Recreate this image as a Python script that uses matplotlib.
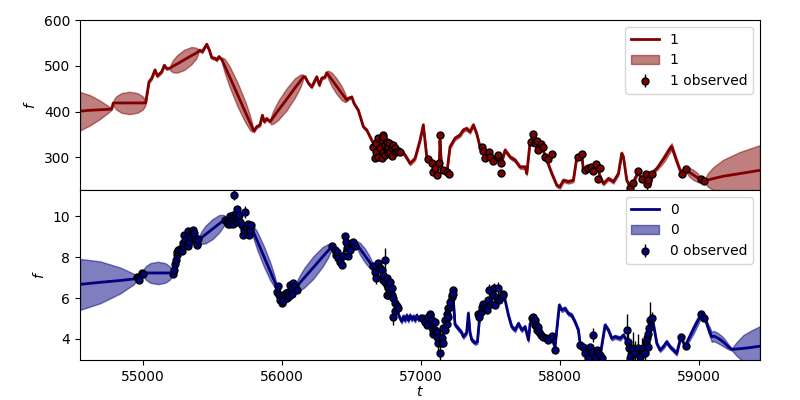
import numpy as np
import matplotlib
matplotlib.use('Agg')
import matplotlib.pyplot as plt
from matplotlib.patches import Patch

# Posterior mean, half-width of band (output "1")
mean1 = [
    (54547, 401, 42), (54619, 403, 33), (54691, 404, 20), (54751, 405, 7), (54775, 406, 2),
    (54786, 419, 2), (54792, 419, 8), (54809, 419, 14.7), (54844, 419, 21.3), (54902, 419, 24.5),
    (54961, 419, 21.3), (54996, 419, 14.7), (55013, 419, 8), (55019, 419, 2),
    (55043, 465, 3), (55063, 473, 3), (55086, 491, 3), (55103, 478, 3), (55134, 487, 3),
    (55153, 501, 3), (55170, 494, 3),
    (55194, 495, 2), (55199, 496, 7), (55214, 499, 13), (55245, 504, 19), (55296, 513, 22),
    (55347, 522, 19), (55378, 527, 13), (55393, 530, 7), (55398, 531, 2),
    (55405, 534, 3), (55426, 531, 3), (55458, 547, 3), (55477, 534, 3), (55494, 518, 3),
    (55518, 516, 3), (55530, 513, 3), (55546, 520, 3), (55566, 514, 2),
    (55572, 510, 8), (55589, 499, 15.6), (55623, 476, 22.6), (55680, 437, 26), (55736, 399, 22.6),
    (55770, 375, 15.6), (55787, 364, 8), (55793, 360, 2),
    (55798, 358, 3), (55817, 367, 3), (55841, 371, 3), (55858, 392, 3), (55872, 378, 3),
    (55889, 385, 3), (55913, 378, 2),
    (55919, 380, 7.5), (55937, 388, 14.4), (55973, 403, 20.9), (56033, 427, 24), (56093, 452, 20.9),
    (56129, 466, 14.4), (56147, 474, 7.5), (56153, 476, 2),
    (56165, 476, 3), (56189, 462, 3), (56213, 454, 3), (56249, 476, 3), (56268, 458, 3),
    (56285, 473, 3), (56309, 476, 3), (56321, 485, 2),
    (56325, 483, 5.5), (56335, 479, 10), (56357, 470, 15), (56393, 455, 17), (56429, 440, 15),
    (56451, 431, 10), (56461, 427, 5.5), (56465, 425, 2),
    (56476, 429, 3), (56501, 432, 3), (56517, 418, 3), (56548, 403, 3), (56584, 367, 3),
    (56608, 360, 3), (56644, 338, 3), (56668, 325, 3), (56700, 318, 3), (56740, 322, 3),
    (56780, 316, 3), (56820, 314, 3), (56848, 318, 3),
    (56884, 305, 4), (56920, 287, 4), (56956, 298, 4), (56992, 338, 4), (57015, 371, 4),
    (57040, 301, 4), (57076, 287, 4), (57112, 272, 4), (57130, 287, 4), (57135, 338, 4),
    (57148, 272, 4), (57184, 265, 4), (57207, 323, 4), (57243, 342, 4), (57279, 349, 4),
    (57303, 360, 4), (57327, 363, 4), (57351, 356, 4), (57375, 371, 4), (57399, 352, 4),
    (57423, 323, 4), (57447, 309, 4), (57483, 305, 4), (57519, 301, 4), (57555, 294, 4),
    (57579, 290, 4), (57603, 316, 4), (57639, 301, 4), (57675, 294, 4), (57711, 279, 4),
    (57747, 279, 4), (57759, 265, 4), (57783, 334, 4), (57807, 352, 4), (57831, 334, 4),
    (57867, 323, 4), (57903, 294, 4), (57939, 265, 4), (57975, 239, 4), (57998, 236, 4),
    (58022, 250, 4), (58058, 247, 4), (58094, 250, 4), (58119, 301, 4), (58154, 309, 4),
    (58166, 272, 4), (58190, 276, 4), (58226, 272, 4), (58250, 279, 4), (58274, 272, 4),
    (58286, 258, 4), (58310, 243, 4), (58346, 254, 4), (58382, 247, 4), (58418, 265, 4),
    (58442, 309, 4), (58454, 301, 4), (58478, 250, 4), (58502, 236, 4), (58526, 247, 4),
    (58562, 269, 4), (58586, 250, 4), (58609, 261, 4), (58633, 261, 4), (58645, 239, 4),
    (58669, 269, 4), (58694, 276, 4),
    (58720, 287, 6), (58750, 300, 8), (58780, 315, 8), (58801, 324, 7), (58830, 298, 6),
    (58861, 272, 4), (58885, 269, 3),
    (58897, 279, 2), (58909, 273, 6.6), (58927, 268, 9.6), (58957, 262, 11),
    (58987, 256, 9.6), (59005, 252, 6.6), (59017, 250, 2), (59034, 248, 2),
    (59062, 251, 15), (59101, 254, 25), (59172, 259, 36), (59292, 265, 47), (59436, 272, 55),
]

# Observations (t, f, error) for output "1"
obs1 = [
    (56656, 323, 4), (56668, 298, 4), (56675, 331, 4), (56675, 312, 4), (56692, 342, 4),
    (56692, 301, 4), (56704, 320, 4), (56716, 338, 4), (56716, 298, 4), (56723, 349, 4),
    (56728, 344, 4), (56728, 312, 4), (56740, 327, 4), (56740, 305, 4), (56752, 334, 4),
    (56752, 316, 4), (56764, 323, 4), (56764, 309, 4), (56771, 331, 4), (56776, 312, 4),
    (56788, 320, 4), (56788, 303, 4), (56800, 327, 4), (56812, 320, 4), (56819, 312, 4),
    (56836, 314, 4), (56848, 312, 4),
    (57051, 296, 4), (57076, 287, 4), (57087, 269, 4), (57099, 276, 4), (57112, 261, 4),
    (57130, 289, 4), (57135, 349, 4), (57159, 272, 4), (57184, 269, 4), (57200, 263, 4),
    (57435, 322, 4), (57442, 314, 4), (57459, 299, 4), (57490, 312, 4), (57495, 301, 4),
    (57519, 292, 4), (57550, 301, 4), (57555, 305, 4), (57574, 287, 4), (57574, 267, 4),
    (57790, 334, 4), (57806, 352, 4), (57818, 332, 4), (57835, 336, 4), (57842, 316, 4),
    (57859, 329, 4), (57878, 322, 4), (57890, 301, 4), (57914, 296, 4), (57939, 307, 4),
    (58130, 301, 4), (58154, 307, 4), (58178, 272, 4), (58202, 276, 4), (58219, 279, 4),
    (58238, 271, 4), (58257, 285, 4), (58274, 253, 4), (58286, 276, 4),
    (58502, 234, 4), (58526, 245, 4), (58562, 270, 4), (58586, 253, 4), (58617, 264, 4),
    (58626, 242, 12), (58633, 250, 4), (58662, 265, 4),
    (58873, 265, 4), (58902, 274, 4), (59012, 254, 4), (59034, 248, 4),
]

# Posterior mean, half-width of band (output "0")
mean0 = [
    (54547, 6.67, 1.25), (54691, 6.77, 1.03), (54835, 6.86, 0.64), (54931, 6.93, 0.27),
    (54966, 6.96, 0.03), (54998, 7.22, 0.03),
    (55004, 7.23, 0.18), (55020, 7.23, 0.33), (55052, 7.23, 0.48), (55106, 7.23, 0.55), (55160, 7.23, 0.48),
    (55192, 7.23, 0.33), (55208, 7.23, 0.18), (55214, 7.22, 0.04),
    (55230, 7.6, 0.05), (55245, 8.15, 0.05), (55265, 8.4, 0.05), (55290, 8.7, 0.05),
    (55310, 8.75, 0.05), (55330, 8.7, 0.05), (55350, 9.15, 0.05), (55367, 9.15, 0.05),
    (55385, 8.75, 0.05), (55398, 8.84, 0.04),
    (55403, 8.87, 0.16), (55418, 8.95, 0.29), (55448, 9.11, 0.43), (55498, 9.37, 0.49), (55547, 9.64, 0.43),
    (55577, 9.79, 0.29), (55592, 9.87, 0.16), (55597, 9.90, 0.04),
    (55625, 9.9, 0.05), (55650, 10.0, 0.05), (55675, 10.05, 0.05), (55700, 9.75, 0.05),
    (55730, 9.4, 0.05), (55755, 9.45, 0.05), (55774, 9.55, 0.04),
    (55779, 9.47, 0.16), (55793, 9.25, 0.3), (55821, 8.81, 0.44), (55868, 8.06, 0.5), (55914, 7.32, 0.44),
    (55942, 6.87, 0.3), (55956, 6.65, 0.16), (55961, 6.57, 0.04),
    (55985, 6.1, 0.05), (56005, 5.9, 0.05), (56030, 6.1, 0.05), (56060, 6.5, 0.05),
    (56093, 6.47, 0.04),
    (56100, 6.53, 0.18), (56119, 6.68, 0.33), (56159, 6.99, 0.48), (56225, 7.50, 0.55), (56291, 8.02, 0.48),
    (56331, 8.32, 0.33), (56350, 8.47, 0.18), (56357, 8.53, 0.04),
    (56380, 8.35, 0.05), (56400, 8.15, 0.05), (56430, 8.0, 0.05), (56460, 8.5, 0.05),
    (56500, 8.6, 0.05), (56531, 8.70, 0.04),
    (56534, 8.67, 0.11), (56543, 8.58, 0.2), (56562, 8.40, 0.3), (56594, 8.10, 0.34), (56625, 7.80, 0.3),
    (56644, 7.62, 0.2), (56653, 7.53, 0.11), (56656, 7.50, 0.04),
    (56690, 7.4, 0.05), (56720, 7.3, 0.05), (56750, 6.7, 0.05), (56780, 6.3, 0.05),
    (56800, 5.9, 0.05), (56826, 5.4, 0.05), (56848, 5.0, 0.08),
    (56860, 4.85, 0.1), (56872, 5.1, 0.1), (56884, 4.9, 0.1), (56896, 5.15, 0.1),
    (56908, 4.9, 0.1), (56920, 5.15, 0.1), (56932, 4.95, 0.1), (56944, 5.1, 0.1),
    (56956, 4.9, 0.1), (56968, 5.15, 0.1), (56980, 4.95, 0.1), (56992, 5.1, 0.1),
    (57004, 4.9, 0.1), (57015, 4.85, 0.08),
    (57040, 4.85, 0.06), (57064, 5.05, 0.06), (57087, 4.5, 0.06), (57110, 4.3, 0.06),
    (57135, 3.8, 0.06), (57160, 4.3, 0.06), (57190, 5.0, 0.06), (57215, 5.9, 0.06),
    (57227, 6.35, 0.06),
    (57243, 4.7, 0.1), (57267, 4.5, 0.1), (57291, 4.3, 0.1), (57303, 4.1, 0.1),
    (57327, 4.3, 0.1), (57339, 5.25, 0.1), (57351, 4.3, 0.1), (57363, 3.95, 0.1),
    (57387, 3.8, 0.1), (57404, 3.85, 0.1), (57418, 4.9, 0.06),
    (57445, 5.6, 0.06), (57480, 5.7, 0.06), (57510, 6.0, 0.06), (57540, 6.1, 0.06),
    (57575, 6.1, 0.06), (57595, 6.15, 0.06),
    (57603, 5.9, 0.1), (57627, 5.16, 0.1), (57651, 4.59, 0.1), (57675, 4.43, 0.1),
    (57699, 4.75, 0.1), (57723, 4.43, 0.1), (57747, 4.59, 0.1), (57771, 3.94, 0.1),
    (57783, 4.75, 0.08),
    (57810, 5.0, 0.06), (57840, 4.5, 0.06), (57880, 4.1, 0.06), (57920, 3.95, 0.06),
    (57945, 3.9, 0.06), (57962, 3.6, 0.06),
    (57993, 5.65, 0.1), (58010, 5.41, 0.1), (58034, 5.49, 0.1), (58058, 5.24, 0.1),
    (58082, 5.16, 0.1), (58106, 4.83, 0.1), (58130, 4.43, 0.1), (58142, 3.8, 0.08),
    (58165, 3.5, 0.06), (58200, 3.1, 0.06), (58230, 3.4, 0.06), (58260, 3.3, 0.06),
    (58286, 3.15, 0.06),
    (58322, 4.67, 0.1), (58346, 4.43, 0.1), (58370, 4.02, 0.1), (58394, 4.10, 0.1),
    (58430, 4.02, 0.1), (58454, 4.18, 0.1), (58478, 3.9, 0.08),
    (58500, 3.4, 0.08), (58530, 3.4, 0.08), (58560, 3.4, 0.08), (58590, 3.45, 0.08),
    (58615, 3.7, 0.08), (58633, 4.2, 0.08), (58650, 4.95, 0.08),
    (58669, 4.75, 0.1), (58694, 3.77, 0.1), (58717, 3.45, 0.1), (58741, 3.61, 0.1),
    (58765, 3.85, 0.1), (58789, 3.61, 0.1), (58813, 3.45, 0.1), (58837, 3.28, 0.1),
    (58866, 4.07, 0.08), (58897, 3.65, 0.08),
    (58930, 4.1, 0.18), (58960, 4.5, 0.22), (58990, 4.9, 0.2), (59017, 5.16, 0.06),
    (59041, 5.0, 0.08), (59065, 4.5, 0.2), (59089, 4.1, 0.25), (59106, 4.13, 0.25),
    (59137, 4.02, 0.25), (59172, 3.85, 0.22), (59210, 3.6, 0.12), (59233, 3.48, 0.05),
    (59269, 3.50, 0.34), (59316, 3.53, 0.65), (59377, 3.58, 0.84), (59436, 3.64, 0.98),
]

# Observations (t, f, error) for output "0"
obs0 = [
    (54955, 7.01, 0.1), (54966, 6.96, 0.1), (54973, 6.88, 0.1), (54991, 7.23, 0.1), (54998, 7.20, 0.1),
    (55218, 7.16, 0.1), (55223, 7.37, 0.1), (55230, 7.66, 0.1), (55237, 7.86, 0.1), (55242, 8.10, 0.1),
    (55247, 8.26, 0.1), (55254, 8.38, 0.1), (55266, 8.43, 0.1), (55278, 8.31, 0.1), (55285, 8.54, 0.1),
    (55290, 8.70, 0.1), (55295, 9.10, 0.1), (55302, 8.87, 0.1), (55314, 8.64, 0.1), (55326, 8.54, 0.1),
    (55326, 9.29, 0.1), (55333, 8.75, 0.1), (55343, 9.00, 0.1), (55350, 9.24, 0.1), (55357, 9.33, 0.1),
    (55362, 9.18, 0.1), (55367, 9.19, 0.1), (55374, 8.92, 0.1), (55386, 8.67, 0.1), (55390, 8.59, 0.1),
    (55398, 8.92, 0.1),
    (55590, 9.85, 0.1), (55602, 9.73, 0.1), (55613, 9.65, 0.1), (55626, 10.01, 0.1), (55626, 9.65, 0.1),
    (55638, 9.90, 0.1), (55649, 10.06, 0.1), (55649, 9.65, 0.1), (55656, 11.04, 0.25), (55661, 9.82, 0.1),
    (55669, 10.14, 0.1), (55674, 10.39, 0.12), (55678, 9.73, 0.1), (55685, 9.98, 0.1), (55692, 10.06, 0.1),
    (55697, 9.73, 0.1), (55710, 9.57, 0.1), (55717, 9.08, 0.1), (55726, 9.33, 0.1), (55733, 10.22, 0.3),
    (55741, 9.49, 0.1), (55746, 9.24, 0.1), (55757, 9.65, 0.1), (55764, 9.08, 0.1), (55769, 9.33, 0.1),
    (55774, 9.57, 0.1),
    (55961, 6.32, 0.1), (55973, 6.57, 0.1), (55980, 6.16, 0.1), (55985, 5.91, 0.1), (55997, 5.75, 0.1),
    (56004, 6.16, 0.1), (56009, 5.83, 0.1), (56021, 6.08, 0.1), (56028, 6.24, 0.1), (56033, 5.99, 0.1),
    (56045, 6.32, 0.1), (56052, 6.08, 0.1), (56057, 6.65, 0.1), (56069, 6.48, 0.1), (56069, 6.19, 0.1),
    (56081, 6.73, 0.1), (56093, 6.57, 0.1), (56105, 6.40, 0.1),
    (56357, 8.53, 0.1), (56380, 8.36, 0.1), (56387, 8.12, 0.1), (56397, 8.28, 0.1), (56404, 7.95, 0.1),
    (56416, 7.79, 0.1), (56428, 7.63, 0.1), (56440, 8.04, 0.1), (56452, 9.02, 0.1), (56460, 8.77, 0.1),
    (56469, 8.44, 0.1), (56476, 8.04, 0.1), (56488, 8.36, 0.1), (56501, 8.69, 0.1), (56512, 8.77, 0.1),
    (56524, 8.53, 0.1),
    (56656, 7.55, 0.1), (56668, 7.30, 0.1), (56675, 6.97, 0.3), (56692, 7.71, 0.1), (56704, 7.46, 0.1),
    (56716, 7.38, 0.1), (56723, 6.89, 0.1), (56728, 7.14, 0.1), (56740, 7.87, 0.6), (56740, 6.81, 0.1),
    (56752, 6.65, 0.1), (56752, 6.16, 0.1), (56757, 6.97, 0.1), (56764, 6.48, 0.1), (56764, 6.16, 0.1),
    (56776, 6.32, 0.1), (56776, 6.81, 0.1), (56788, 6.16, 0.1), (56788, 6.48, 0.1), (56800, 6.00, 0.1),
    (56800, 5.08, 0.4), (56812, 5.75, 0.1), (56812, 5.34, 0.1), (56824, 5.59, 0.1), (56836, 5.50, 0.1),
    (57004, 5.00, 0.1), (57028, 4.83, 0.1), (57040, 4.67, 0.1), (57051, 5.08, 0.1), (57064, 5.24, 0.1),
    (57064, 5.16, 0.1), (57076, 4.59, 0.1), (57076, 4.92, 0.1), (57087, 4.26, 0.15), (57087, 4.43, 0.1),
    (57099, 4.43, 0.1), (57099, 4.83, 0.1), (57112, 4.10, 0.15), (57112, 4.34, 0.1), (57123, 3.77, 0.3),
    (57123, 4.10, 0.1), (57135, 3.28, 0.35), (57148, 4.02, 0.1), (57148, 3.77, 0.15), (57159, 3.77, 0.1),
    (57159, 4.51, 0.1), (57171, 4.43, 0.1), (57171, 4.92, 0.1), (57184, 4.75, 0.1), (57184, 5.24, 0.1),
    (57195, 5.08, 0.1), (57195, 5.49, 0.1), (57207, 5.57, 0.1), (57207, 5.81, 0.1), (57220, 6.06, 0.1),
    (57220, 6.14, 0.1), (57227, 6.39, 0.15), (57231, 6.22, 0.1),
    (57411, 5.24, 0.1), (57418, 5.08, 0.1), (57428, 5.32, 0.1), (57435, 5.57, 0.1), (57447, 5.73, 0.1),
    (57459, 5.49, 0.1), (57471, 5.41, 0.1), (57483, 5.90, 0.1), (57490, 6.39, 0.3), (57500, 5.73, 0.1),
    (57514, 6.14, 0.1), (57524, 6.47, 0.25), (57531, 5.65, 0.1), (57543, 5.98, 0.1), (57550, 6.47, 0.3),
    (57562, 5.90, 0.1), (57572, 6.06, 0.1), (57586, 6.22, 0.1), (57590, 6.14, 0.1),
    (57795, 5.00, 0.1), (57806, 5.08, 0.1), (57818, 4.92, 0.1), (57818, 4.67, 0.1), (57826, 4.67, 0.1),
    (57835, 4.43, 0.1), (57842, 4.59, 0.1), (57849, 4.34, 0.1), (57861, 4.18, 0.1), (57878, 4.10, 0.1),
    (57897, 4.02, 0.1), (57914, 3.94, 0.1), (57939, 4.13, 0.1), (57962, 3.45, 0.1),
    (58142, 3.69, 0.1), (58161, 3.61, 0.1), (58178, 3.28, 0.1), (58202, 3.04, 0.1), (58214, 3.61, 0.1),
    (58226, 3.36, 0.1), (58238, 4.18, 0.35), (58250, 3.12, 0.1), (58262, 3.45, 0.1), (58274, 3.28, 0.1),
    (58286, 3.20, 0.1), (58298, 3.04, 0.1),
    (58482, 4.43, 0.8), (58490, 3.85, 0.6), (58497, 3.53, 0.5), (58502, 3.04, 0.7), (58507, 3.20, 0.4),
    (58526, 3.53, 0.8), (58538, 3.28, 0.6), (58562, 3.53, 0.7), (58574, 3.12, 0.5), (58586, 3.45, 0.6),
    (58598, 3.53, 0.4), (58609, 3.28, 0.5), (58617, 3.85, 0.6), (58626, 4.02, 0.5), (58633, 4.26, 0.6),
    (58633, 3.61, 0.4), (58641, 4.51, 0.5), (58645, 4.92, 0.9), (58657, 5.00, 0.3),
    (58866, 4.07, 0.1), (58904, 3.64, 0.1), (59012, 5.21, 0.15), (59034, 5.00, 0.1),
]

panels = [
    ('1', '#800000', mean1, obs1, (229, 600)),
    ('0', '#000080', mean0, obs0, (2.96, 11.3)),
]

fig, axes = plt.subplots(2, 1, figsize=(8, 4), dpi=100, sharex=True)
fig.subplots_adjust(left=0.1, right=0.95, top=0.95, bottom=0.1, hspace=0)

for ax, (name, col, mean, obs, ylim) in zip(axes, panels):
    t, f, s = np.array(mean).T
    to, fo, eo = np.array(obs).T
    ln, = ax.plot(t, f, color=col, lw=2, zorder=2)
    ax.fill_between(t, f - s, f + s, color=col, alpha=0.5, zorder=1)
    eb = ax.errorbar(to, fo, yerr=eo, fmt='o', color=col, ms=5, mec='black',
                     mew=1, ecolor='black', elinewidth=1, zorder=3)
    patch = Patch(facecolor=col, edgecolor=col, alpha=0.5)
    ax.legend([ln, patch, eb], [name, name, name + ' observed'], loc='upper right')
    ax.set_ylim(*ylim)
    ax.set_ylabel('$f$')

axes[0].set_yticks([300, 400, 500, 600])
axes[1].set_yticks([4, 6, 8, 10])
axes[1].set_xlim(54547, 59436)
axes[1].set_xticks([55000, 56000, 57000, 58000, 59000])
axes[1].set_xlabel('$t$', labelpad=1)

plt.savefig('out.png', dpi=100)
